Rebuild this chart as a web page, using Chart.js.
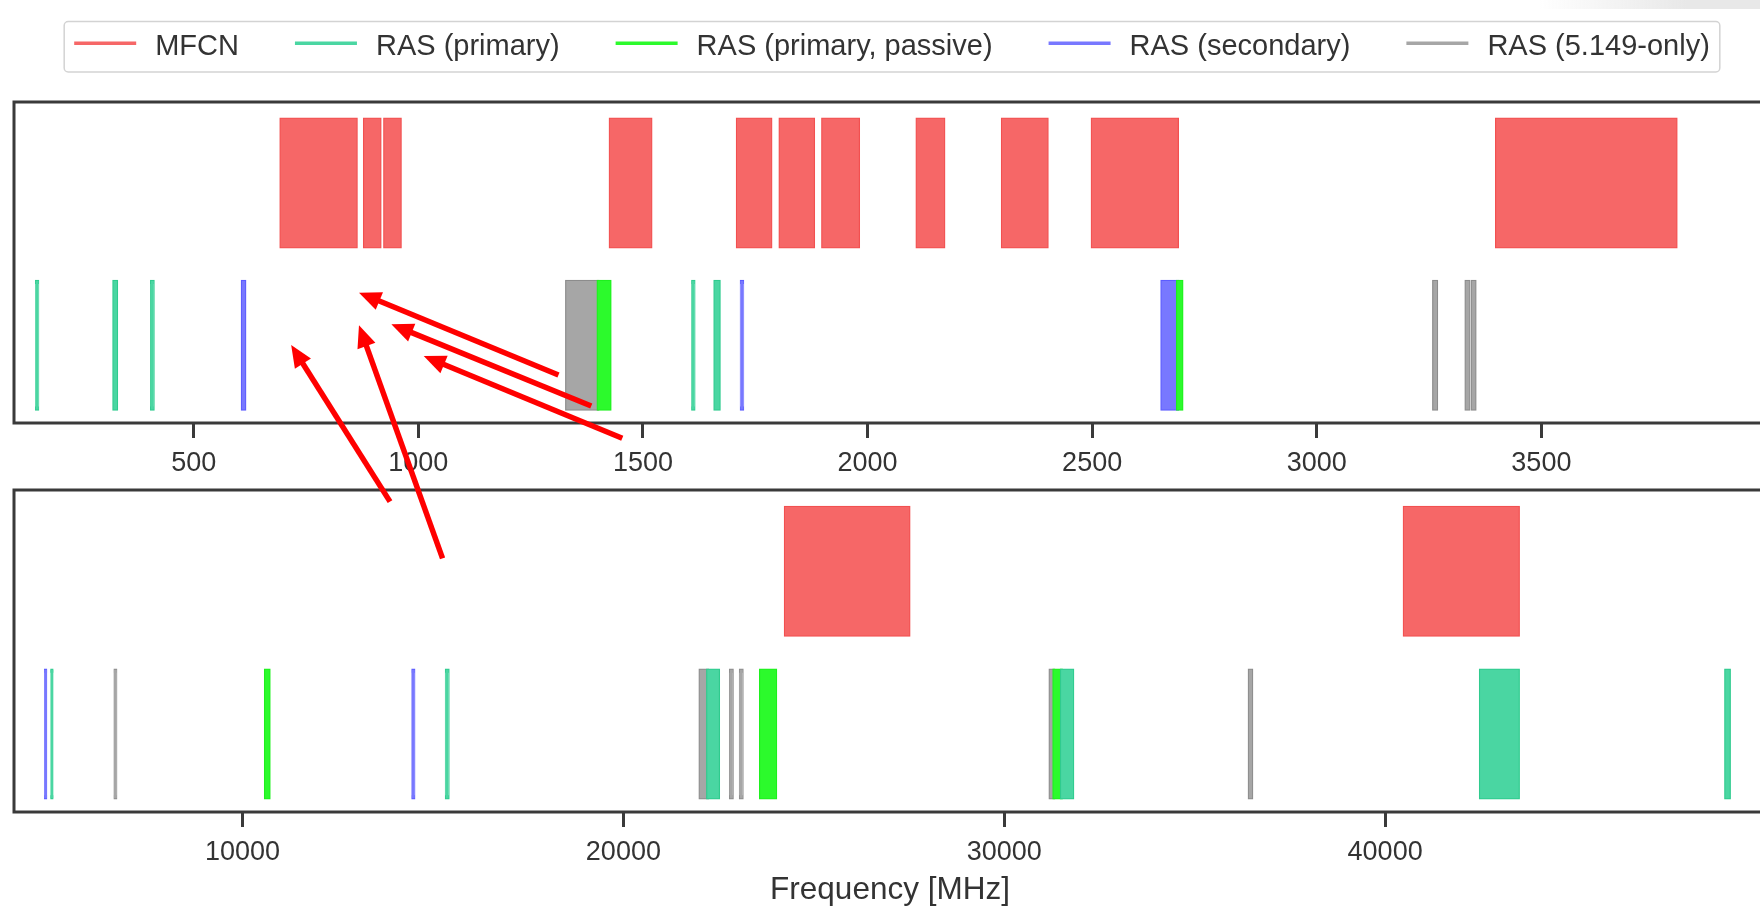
<!DOCTYPE html>
<html lang="en">
  <head>
    <meta charset="UTF-8" />
    <title>MFCN and RAS frequency bands</title>
    <script src="https://cdn.jsdelivr.net/npm/chart.js@4.4.1/dist/chart.umd.min.js"></script>
    <style>
      html,
      body {
        margin: 0;
        padding: 0;
        background: #ffffff;
        overflow: hidden;
      }

      .figure {
        position: relative;
        width: 1784px;
        height: 920px;
      }

      .figure canvas {
        position: absolute;
        left: 0;
        top: 0;
      }

      .corner {
        position: absolute;
        left: 1540px;
        top: 0;
        width: 244px;
        height: 9px;
        background: linear-gradient(to right, rgba(232, 232, 232, 0), rgba(232, 232, 232, 1) 60%);
        z-index: 3;
      }
    </style>
  </head>
  <body>
    <div class="figure">
      <canvas id="highChart" width="1784" height="920" style="z-index: 1"></canvas>
      <canvas id="lowChart" width="1784" height="920" style="z-index: 2"></canvas>
      <div class="corner"></div>
    </div>

    <script>
      const FONT = "'Liberation Sans', Arial, sans-serif";

      // axis ticks (MHz)
      const lowTicks = [500, 1000, 1500, 2000, 2500, 3000, 3500];
      const highTicks = [10000, 20000, 30000, 40000];

      // bands below 4 GHz, [start, end] in MHz
      const mfcnLow = [
        [694, 862], [880, 915], [925, 960], [1427, 1518], [1710, 1785], [1805, 1880],
        [1900, 1980], [2110, 2170], [2300, 2400], [2500, 2690], [3400, 3800],
      ];
      const rasPrimaryLow = [[150.05, 153], [322, 328.6], [406.1, 410], [1610.6, 1613.8], [1660, 1670]];
      const rasPassiveLow = [[1400, 1427], [2690, 2700]];
      const rasSecondaryLow = [[608, 614], [1718.8, 1722.2], [2655, 2690]];
      const ras5149Low = [[1330, 1400], [3260, 3267], [3332, 3339], [3345.8, 3352.5]];

      // bands from 4 GHz up, [start, end] in MHz
      const mfcnHigh = [[24250, 27500], [40500, 43500]];
      const rasPrimaryHigh = [[4990, 5000], [15350, 15400], [22210, 22500], [31500, 31800], [42500, 43500], [48940, 49040]];
      const rasPassiveHigh = [[10600, 10700], [23600, 24000], [31300, 31500]];
      const rasSecondaryHigh = [[4825, 4835], [14470, 14500]];
      const ras5149High = [[6650, 6675.2], [22010, 22210], [22810, 22860], [23070, 23120], [31200, 31300], [36430, 36500]];

      // hand-drawn arrows on the lower figure: [fromMHz, fromLevel, toMHz, toLevel]
      const arrows = [
        [1312, -0.184, 868, 0.324],
        [1385, -0.375, 940, 0.129],
        [1454, -0.574, 1012, -0.067],
        [937, -0.965, 717, 0.001],
        [1054, -1.315, 868, 0.123],
      ];

      const ROW_MFCN = 1;
      const ROW_RAS = 0;

      const styles = {
        mfcn: { fill: "#f66767", edge: "#f25050" },
        primary: { fill: "#4ad6a2", edge: "#2fcb8e" },
        passive: { fill: "#2cfa2c", edge: "#1ef01e" },
        secondary: { fill: "#7878ff", edge: "#5c5cff" },
        only5149: { fill: "#a6a6a6", edge: "#8c8c8c" },
      };

      function bandSet(label, bands, row, style) {
        return {
          label: label,
          data: bands.map((b) => ({ x: b, y: row })),
          backgroundColor: style.fill,
          borderColor: style.edge,
          borderWidth: 1.2,
          borderSkipped: false,
          inflateAmount: 1.5,
          barThickness: 128,
          grouped: false,
        };
      }

      function bandSets(mfcn, primary, passive, secondary, only5149) {
        return [
          bandSet("MFCN", mfcn, ROW_MFCN, styles.mfcn),
          bandSet("RAS (primary)", primary, ROW_RAS, styles.primary),
          bandSet("RAS (primary, passive)", passive, ROW_RAS, styles.passive),
          bandSet("RAS (secondary)", secondary, ROW_RAS, styles.secondary),
          bandSet("RAS (5.149-only)", only5149, ROW_RAS, styles.only5149),
        ];
      }

      // box around each plot area
      const frame = {
        id: "frame",
        afterDraw(chart) {
          const { ctx, chartArea: a } = chart;
          ctx.save();
          ctx.lineWidth = 3;
          ctx.strokeStyle = "#3a3a3a";
          ctx.strokeRect(a.left, a.top, a.right - a.left, a.bottom - a.top);
          ctx.restore();
        },
      };

      // legend in a rounded box, line handles like a matplotlib legend
      const legendBox = {
        id: "legendBox",
        afterDraw(chart) {
          const ctx = chart.ctx;
          const fs = 29, handle = 62, gap = 19, colGap = 56, pad = 10;
          ctx.save();
          ctx.font = fs + "px " + FONT;
          const items = chart.data.datasets.map((d) => ({
            label: d.label,
            color: d.backgroundColor,
            w: ctx.measureText(d.label).width,
          }));
          const inner = items.reduce((s, it) => s + handle + gap + it.w, 0) + colGap * (items.length - 1);
          const boxW = inner + 2 * pad;
          const boxH = 50.5;
          const boxTop = 21.5;
          const boxLeft = (chart.width - boxW) / 2;

          ctx.beginPath();
          ctx.roundRect(boxLeft, boxTop, boxW, boxH, 4);
          ctx.fillStyle = "rgba(255,255,255,0.85)";
          ctx.fill();
          ctx.lineWidth = 1.5;
          ctx.strokeStyle = "#d3d3d3";
          ctx.stroke();

          let x = boxLeft + pad;
          items.forEach((it) => {
            ctx.beginPath();
            ctx.moveTo(x, 43.3);
            ctx.lineTo(x + handle, 43.3);
            ctx.lineWidth = 3.5;
            ctx.strokeStyle = it.color;
            ctx.stroke();
            ctx.fillStyle = "#333333";
            ctx.textBaseline = "alphabetic";
            ctx.fillText(it.label, x + handle + gap, 54.5);
            x += handle + gap + it.w + colGap;
          });
          ctx.restore();
        },
      };

      const arrowMarks = {
        id: "arrowMarks",
        afterDraw(chart) {
          const { ctx, scales } = chart;
          ctx.save();
          ctx.strokeStyle = "#ff0000";
          ctx.fillStyle = "#ff0000";
          ctx.lineWidth = 5.5;
          arrows.forEach(([f0, l0, f1, l1]) => {
            const x0 = scales.x.getPixelForValue(f0);
            const y0 = scales.y.getPixelForValue(l0);
            const x1 = scales.x.getPixelForValue(f1);
            const y1 = scales.y.getPixelForValue(l1);
            const len = Math.hypot(x1 - x0, y1 - y0);
            const ux = (x1 - x0) / len, uy = (y1 - y0) / len;
            const hl = 22, hw = 9.5;
            const bx = x1 - ux * hl, by = y1 - uy * hl;
            ctx.beginPath();
            ctx.moveTo(x0, y0);
            ctx.lineTo(bx + ux * 2, by + uy * 2);
            ctx.stroke();
            ctx.beginPath();
            ctx.moveTo(x1, y1);
            ctx.lineTo(bx - uy * hw, by + ux * hw);
            ctx.lineTo(bx + uy * hw, by - ux * hw);
            ctx.closePath();
            ctx.fill();
          });
          ctx.restore();
        },
      };

      function xAxis(min, max, ticks, height, title) {
        return {
          type: "linear",
          position: "bottom",
          min: min,
          max: max,
          afterBuildTicks: (scale) => {
            scale.ticks = ticks.map((v) => ({ value: v }));
          },
          afterFit: (scale) => {
            scale.height = height;
          },
          grid: {
            drawOnChartArea: false,
            drawTicks: true,
            tickLength: 15,
            tickWidth: 3,
            tickColor: "#3a3a3a",
          },
          border: { display: false },
          ticks: {
            autoSkip: false,
            maxRotation: 0,
            padding: 9,
            color: "#333333",
            font: { family: FONT, size: 27 },
            callback: (v) => String(v),
          },
          title: title
            ? {
                display: true,
                text: title,
                color: "#333333",
                font: { family: FONT, size: 31.5 },
                padding: { top: 0, bottom: 11 },
              }
            : { display: false },
        };
      }

      const yAxis = { type: "linear", display: false, offset: false, min: -0.48, max: 1.5 };

      const common = {
        indexAxis: "y",
        responsive: false,
        animation: false,
        devicePixelRatio: 1,
        plugins: {
          legend: { display: false },
          tooltip: { enabled: false },
        },
      };

      new Chart(document.getElementById("lowChart"), {
        type: "bar",
        data: { datasets: bandSets(mfcnLow, rasPrimaryLow, rasPassiveLow, rasSecondaryLow, ras5149Low) },
        options: Object.assign({}, common, {
          layout: { padding: { top: 102, left: 14, right: 18, bottom: 437 } },
          scales: { x: xAxis(100, 4000, lowTicks, 60), y: yAxis },
        }),
        plugins: [frame, legendBox, arrowMarks],
      });

      new Chart(document.getElementById("highChart"), {
        type: "bar",
        data: { datasets: bandSets(mfcnHigh, rasPrimaryHigh, rasPassiveHigh, rasSecondaryHigh, ras5149High) },
        options: Object.assign({}, common, {
          layout: { padding: { top: 490, left: 14, right: 18, bottom: 0 } },
          scales: { x: xAxis(4000, 50000, highTicks, 108, "Frequency [MHz]"), y: yAxis },
        }),
        plugins: [frame],
      });
    </script>
  </body>
</html>
